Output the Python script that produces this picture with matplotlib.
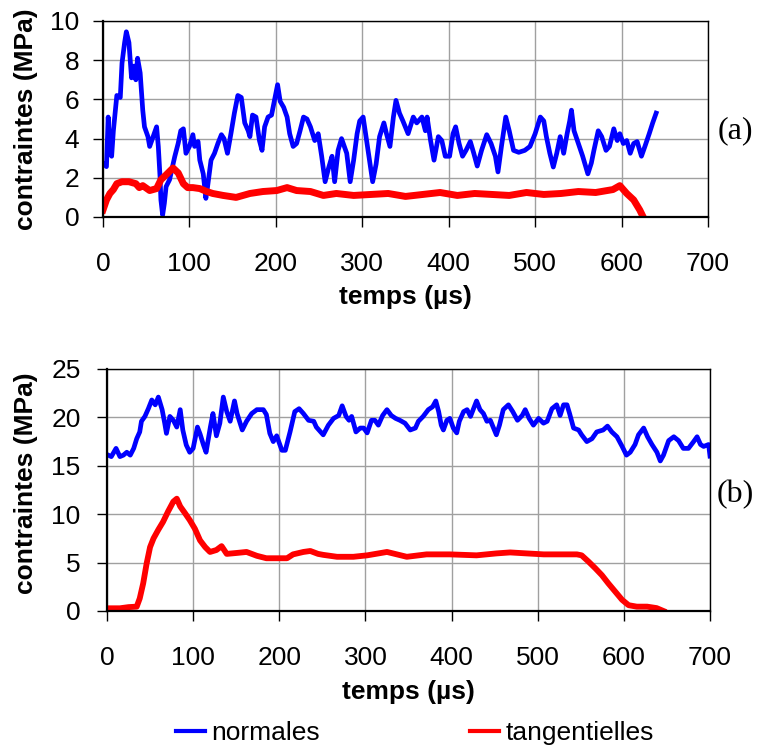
import matplotlib
matplotlib.use("Agg")
import matplotlib.pyplot as plt
from matplotlib.lines import Line2D

# ---------------- data ----------------
# (a) top panel
top_normales = [
    (0, 2.74), (4, 2.57), (6, 5.1), (8, 3.26), (10, 3.1), (12, 4.4), (16, 6.2), (20, 6.1),
    (22, 7.85), (25, 8.9), (27, 9.45), (30, 8.9), (33, 7.1), (36, 7.7), (38, 7.0), (40, 8.1),
    (43, 7.35), (46, 5.45), (48, 4.6), (52, 4.1), (54, 3.6), (58, 4.1), (62, 4.6), (64, 3.6),
    (66, 2.05), (67, 0.87), (69, 0.1), (71, 0.7), (73, 1.55), (77, 1.9), (83, 3.08), (87, 3.76),
    (90, 4.4), (93, 4.5), (96, 3.25), (100, 3.6), (104, 4.2), (106, 3.6), (110, 3.85), (112, 2.9),
    (116, 2.2), (119, 0.95), (121, 1.55), (125, 2.9), (129, 3.25), (133, 3.76), (137, 4.2),
    (140, 4.0), (144, 3.25), (148, 4.25), (152, 5.3), (156, 6.2), (160, 6.1), (164, 4.8),
    (168, 4.4), (170, 4.1), (173, 5.2), (177, 5.1), (181, 3.9), (184, 3.4), (187, 4.6),
    (191, 5.1), (195, 5.2), (199, 6.1), (202, 6.75), (205, 5.9), (209, 5.6), (213, 5.1),
    (216, 4.25), (220, 3.6), (224, 3.75), (228, 4.4), (232, 5.1), (236, 5.0), (240, 4.6),
    (245, 3.9), (249, 4.25), (253, 3.1), (257, 1.8), (261, 2.5), (265, 3.1), (268, 1.8),
    (272, 3.4), (276, 4.0), (282, 3.25), (286, 1.8), (290, 2.9), (294, 4.25), (297, 4.9),
    (301, 5.1), (305, 3.9), (309, 2.7), (312, 1.8), (316, 2.7), (320, 4.1), (325, 4.8),
    (328, 4.25), (332, 3.6), (336, 5.1), (339, 5.95), (343, 5.3), (347, 4.9), (353, 4.25),
    (359, 5.1), (363, 4.8), (369, 5.1), (373, 4.4), (375, 5.1), (379, 3.9), (383, 2.9),
    (388, 4.1), (392, 3.9), (396, 3.1), (401, 3.1), (405, 4.25), (408, 4.6), (412, 3.75),
    (416, 3.1), (420, 3.4), (425, 3.85), (429, 3.25), (433, 2.6), (438, 3.4), (444, 4.2),
    (449, 3.75), (454, 3.1), (457, 2.3), (461, 3.6), (466, 5.1), (470, 4.4), (475, 3.4),
    (481, 3.3), (488, 3.4), (494, 3.6), (500, 4.25), (506, 5.1), (510, 4.9), (513, 4.1),
    (517, 3.25), (521, 2.55), (525, 3.25), (529, 4.1), (533, 3.25), (537, 4.25), (540, 4.9),
    (542, 5.45), (545, 4.4), (550, 3.75), (555, 3.1), (561, 2.2), (565, 2.75), (568, 3.4),
    (573, 4.4), (577, 4.1), (582, 3.4), (586, 3.6), (591, 4.5), (595, 3.9), (598, 4.25),
    (602, 3.75), (606, 3.9), (610, 3.25), (614, 3.75), (618, 3.85), (623, 3.1), (627, 3.6),
    (632, 4.25), (636, 4.8), (640, 5.3),
]
top_tangentielles = [
    (0, 0.36), (4, 0.87), (8, 1.2), (12, 1.4), (16, 1.7), (22, 1.8), (30, 1.8), (38, 1.7),
    (42, 1.5), (46, 1.6), (54, 1.35), (62, 1.45), (67, 1.9), (73, 2.15), (81, 2.5), (87, 2.25),
    (93, 1.7), (98, 1.5), (104, 1.5), (112, 1.45), (120, 1.3), (127, 1.2), (139, 1.1),
    (154, 1.0), (170, 1.2), (185, 1.3), (201, 1.35), (213, 1.5), (224, 1.35), (240, 1.3),
    (255, 1.1), (270, 1.2), (290, 1.1), (310, 1.15), (330, 1.2), (350, 1.05), (370, 1.15),
    (390, 1.25), (410, 1.1), (430, 1.2), (450, 1.15), (470, 1.1), (490, 1.25), (510, 1.15),
    (530, 1.2), (550, 1.3), (570, 1.25), (590, 1.4), (598, 1.6), (606, 1.2), (614, 0.87),
    (621, 0.36), (625, 0.0),
]

# (b) bottom panel
bot_normales = [
    (1.5, 16.1), (5, 15.95), (10.5, 16.8), (15, 15.95), (19, 16.1), (23, 16.4), (27, 16.1),
    (31, 16.8), (34.5, 17.8), (38, 18.5), (40, 19.6), (44, 20.1), (48, 20.9), (52, 21.8),
    (56, 21.3), (59.6, 22.1), (64, 20.8), (67, 19.4), (69, 18.35), (73, 20.1), (77, 19.7),
    (81, 19.0), (85, 20.8), (88, 18.7), (92, 17.15), (96, 16.4), (100, 16.8), (105, 19.0),
    (108, 18.3), (112, 17.15), (115, 16.4), (120, 19.0), (123, 20.4), (127, 18.1), (131, 19.4),
    (135, 22.1), (139, 20.6), (143, 19.6), (148, 21.7), (151, 20.4), (157, 18.7), (162, 19.6),
    (168, 20.4), (174, 20.8), (181.5, 20.8), (185, 20.3), (189, 18.35), (193, 17.5), (197, 18.1),
    (203, 16.6), (207, 16.6), (212.5, 18.5), (218, 20.6), (223, 20.9), (228, 20.4), (234, 19.7),
    (240, 19.6), (243, 19.0), (251, 18.2), (257, 19.2), (263, 19.9), (269, 20.2), (273, 21.2),
    (277.5, 20.1), (281, 19.7), (284, 20.1), (289, 18.5), (294, 18.9), (298, 18.9), (302, 18.4),
    (307, 19.7), (311, 19.7), (315, 19.2), (320, 20.2), (325, 20.8), (330, 20.2), (335, 19.9),
    (340, 19.7), (346, 19.4), (352, 18.7), (358, 18.9), (361.5, 19.6), (367, 20.1), (373, 20.8),
    (378, 21.1), (381.7, 21.7), (385, 20.6), (388, 19.2), (390.5, 18.7), (394.5, 19.7),
    (398, 19.9), (402, 18.9), (406, 18.4), (409, 19.6), (414, 20.6), (418, 20.8), (422, 20.1),
    (425.5, 20.9), (429, 21.7), (433, 20.8), (437, 20.4), (441, 19.6), (445, 19.7), (448.7, 18.9),
    (452, 18.2), (455.6, 19.2), (460, 20.8), (466, 21.3), (471, 20.6), (476.5, 19.7), (482, 20.2),
    (485.5, 20.8), (490, 19.9), (495, 19.2), (501, 19.9), (506.7, 19.4), (511, 19.6),
    (516.5, 20.9), (522, 21.3), (526, 20.2), (530, 21.3), (534, 21.3), (537, 20.4), (541.6, 18.9),
    (547.5, 18.7), (551, 18.2), (557, 17.5), (563, 17.8), (568.5, 18.5), (576, 18.7), (581, 19.1),
    (586, 18.5), (592, 18.0), (598, 17.0), (603, 16.1), (607.4, 16.4), (613, 17.2), (617, 18.2),
    (623, 18.9), (627.5, 18.0), (632.6, 17.2), (638.4, 16.4), (642.3, 15.5), (646, 16.1),
    (652, 17.6), (658, 18.0), (663.5, 17.6), (669, 16.8), (675, 16.8), (681, 17.5), (685, 18.0),
    (689, 17.2), (692.6, 17.0), (698.4, 17.2), (700, 16.0),
]
bot_tangentielles = [
    (1.5, 0.28), (15, 0.28), (25, 0.4), (34.5, 0.45), (38, 1.3), (42, 2.85), (46, 4.9),
    (50, 6.6), (54, 7.5), (59.6, 8.4), (65, 9.2), (71, 10.3), (77, 11.3), (81, 11.6), (85, 10.8),
    (90.6, 10.1), (96, 9.4), (102, 8.5), (108, 7.3), (114, 6.6), (119.6, 6.1), (127, 6.3),
    (133, 6.7), (139, 5.9), (151, 6.0), (162, 6.1), (174, 5.7), (185, 5.45), (197, 5.45),
    (209, 5.45), (216, 5.85), (228, 6.1), (236, 6.2), (245, 5.9), (251, 5.8), (267, 5.6),
    (286, 5.6), (302, 5.75), (325, 6.1), (348, 5.6), (371, 5.85), (398, 5.85), (429, 5.75),
    (452, 5.95), (468, 6.05), (487, 5.95), (507, 5.85), (545.5, 5.85), (551, 5.75), (559, 5.1),
    (567, 4.4), (574.5, 3.7), (582, 2.85), (590, 2.0), (598, 1.15), (605.5, 0.6), (615, 0.45),
    (627, 0.45), (638, 0.3), (646, 0.0),
]

x_ticks = [0, 100, 200, 300, 400, 500, 600, 700]
top_y_ticks = [0, 2, 4, 6, 8, 10]
bot_y_ticks = [0, 5, 10, 15, 20, 25]
series_labels = ["normales", "tangentielles"]
xlabel = "temps (µs)"
ylabel = "contraintes (MPa)"
panel_labels = ["(a)", "(b)"]

BLUE = "#0000ff"
RED = "#ff0000"
SANS = ["Liberation Sans", "DejaVu Sans"]
SERIF = ["Liberation Serif", "DejaVu Serif"]
FS = 19

fig = plt.figure(figsize=(7.57, 7.49), dpi=100)
W, H = 757.0, 749.0
ax1 = fig.add_axes([103 / W, 1 - 217 / H, 605 / W, 196 / H])
ax2 = fig.add_axes([107 / W, 1 - 611 / H, 603 / W, 242 / H])


def style(ax, yticks, ymax, ylab_y, xlab_y, ylab_x, ypad):
    ax.set_xlim(0, 700)
    ax.set_ylim(0, ymax)
    ax.set_xticks(x_ticks)
    ax.set_yticks(yticks)
    ax.grid(True, color="#a0a0a0", linewidth=1.0)
    ax.set_axisbelow(True)
    for s in ["left", "bottom"]:
        ax.spines[s].set_linewidth(1.6)
        ax.spines[s].set_color("black")
    for s in ["top", "right"]:
        ax.spines[s].set_linewidth(1.0)
        ax.spines[s].set_color("black")
    ax.tick_params(axis="x", direction="out", length=7, width=1, pad=18, labelsize=FS)
    ax.tick_params(axis="y", direction="out", length=7, width=1, pad=ypad, labelsize=FS)
    for lab in ax.get_xticklabels() + ax.get_yticklabels():
        lab.set_family(SANS)
    ax.set_xlabel(xlabel, fontsize=FS, fontweight="bold", family=SANS)
    ax.set_ylabel(ylabel, fontsize=FS, fontweight="bold", family=SANS)
    ax.xaxis.set_label_coords(0.5, xlab_y)
    ax.yaxis.set_label_coords(ylab_x, ylab_y)


tx, ty = zip(*top_normales)
ax1.plot(tx, ty, color=BLUE, linewidth=3.4, solid_joinstyle="round")
tx, ty = zip(*top_tangentielles)
ax1.plot(tx, ty, color=RED, linewidth=5.0, solid_joinstyle="round")
style(ax1, top_y_ticks, 10, 0.5, -0.345, -0.107, 10)

bx, by = zip(*bot_normales)
ax2.plot(bx, by, color=BLUE, linewidth=3.4, solid_joinstyle="round")
bx, by = zip(*bot_tangentielles)
ax2.plot(bx, by, color=RED, linewidth=4.2, solid_joinstyle="round")
style(ax2, bot_y_ticks, 25, 0.53, -0.285, -0.114, 12)

fig.text(735 / W, 1 - 131 / H, panel_labels[0], fontsize=23, family=SERIF, ha="center", va="center")
fig.text(735 / W, 1 - 495 / H, panel_labels[1], fontsize=23, family=SERIF, ha="center", va="center")

handles = [Line2D([], [], color=BLUE, linewidth=3), Line2D([], [], color=RED, linewidth=3)]
fig.legend(handles, series_labels, loc="center", bbox_to_anchor=(415 / W, 1 - 733 / H),
           ncol=2, frameon=False, handlelength=1.1, handletextpad=0.25, columnspacing=5.7,
           prop={"family": SANS, "size": FS})

fig.savefig("out.png", dpi=100)
